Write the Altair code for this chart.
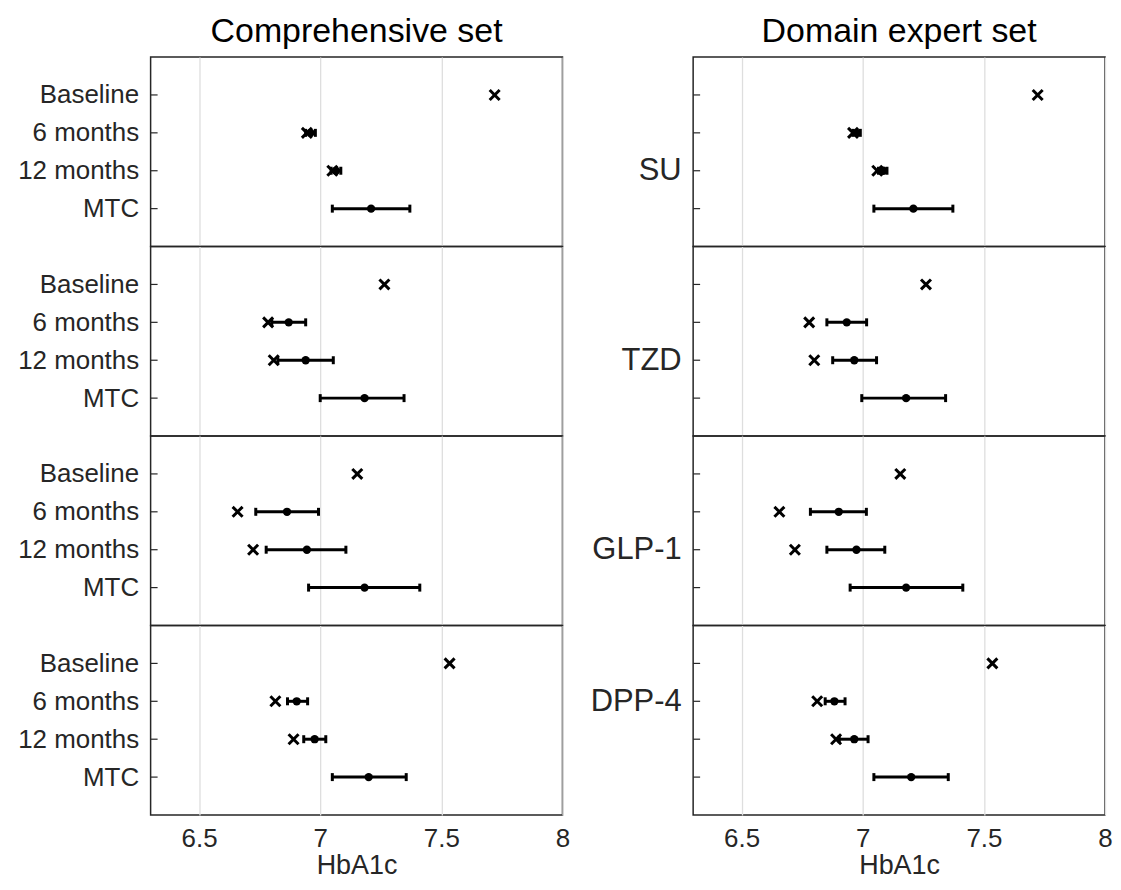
import json
import altair as alt
import pandas as pd

# ---------------- data ----------------
set_names = ["Comprehensive set", "Domain expert set"]
drugs = ["SU", "TZD", "GLP-1", "DPP-4"]
time_labels = ["Baseline", "6 months", "12 months", "MTC"]
drug_label_row = [3, 3, 3, 2]          # tick row where the drug name is shown (right column)

obs_rows = [1, 2, 3]                    # Baseline, 6 months, 12 months  (x markers)
pred_rows = [2, 3, 4]                   # 6 months, 12 months, MTC       (dot + CI)

# Comprehensive set
comp_obs = [[7.72, 6.945, 7.05],
            [7.265, 6.785, 6.808],
            [7.153, 6.659, 6.723],
            [7.534, 6.815, 6.89]]
comp_pred = [[6.96, 7.065, 7.21],
             [6.87, 6.94, 7.183],
             [6.863, 6.945, 7.183],
             [6.903, 6.977, 7.20]]
comp_lo = [[6.94, 7.045, 7.05],
           [6.80, 6.825, 7.0],
           [6.734, 6.777, 6.952],
           [6.865, 6.932, 7.05]]
comp_hi = [[6.98, 7.085, 7.37],
           [6.94, 7.054, 7.346],
           [6.993, 7.106, 7.411],
           [6.948, 7.023, 7.355]]

# Domain expert set
dom_obs = [[7.722, 6.96, 7.06],
           [7.261, 6.779, 6.80],
           [7.155, 6.656, 6.72],
           [7.535, 6.812, 6.89]]
dom_pred = [[6.975, 7.085, 7.209],
            [6.934, 6.965, 7.179],
            [6.901, 6.974, 7.179],
            [6.883, 6.965, 7.20]]
dom_lo = [[6.96, 7.065, 7.046],
          [6.852, 6.876, 6.996],
          [6.784, 6.852, 6.948],
          [6.845, 6.903, 7.046]]
dom_hi = [[6.99, 7.10, 7.372],
          [7.016, 7.057, 7.342],
          [7.015, 7.091, 7.413],
          [6.927, 7.022, 7.353]]

x_ticks = [6.5, 7, 7.5, 8]
x_domain = [6.3, 8]

OBS = [comp_obs, dom_obs]
PRED = [comp_pred, dom_pred]
LO = [comp_lo, dom_lo]
HI = [comp_hi, dom_hi]

# ---------------- style ----------------
FONT = "Liberation Sans"
TXT = "#262626"
PW, PH = 413, 190
CROSS = "M-1,-1L1,1M-1,1L1,-1"
CAP = "M0,-1L0,1"


def panel(si, di):
    obs_df = pd.DataFrame({"pos": obs_rows, "value": OBS[si][di]})
    pred_df = pd.DataFrame({"pos": pred_rows, "value": PRED[si][di],
                            "lo": LO[si][di], "hi": HI[si][di]})
    tick_df = pd.DataFrame({"pos": [1, 2, 3, 4]})

    bottom = di == len(drugs) - 1
    xscale = alt.Scale(domain=x_domain, nice=False, zero=False)
    yscale = alt.Scale(domain=[0, 5], reverse=True, nice=False, zero=False)

    xaxis_kw = dict(values=x_ticks, grid=True, gridColor="#dedede", gridWidth=1.3,
                    ticks=False, domain=False, labels=bottom, format="~g",
                    labelFontSize=26, labelColor=TXT, labelFont=FONT,
                    labelFlush=False)
    if bottom:
        xaxis_kw.update(title="HbA1c", titleFontSize=27, titleFontWeight="normal",
                        titleColor=TXT, titleFont=FONT, titlePadding=1, labelPadding=11)
    else:
        xaxis_kw.update(title=None, labelPadding=0, minExtent=0, maxExtent=0)
    xaxis = alt.Axis(**xaxis_kw)

    if si == 0:
        expr = json.dumps(time_labels) + "[datum.value - 1]"
        yaxis = alt.Axis(values=[1, 2, 3, 4], labelExpr=expr, ticks=False, domain=False,
                         grid=False, labelFontSize=26, labelColor=TXT, labelFont=FONT,
                         labelPadding=12, minExtent=142, maxExtent=142, title=None)
    else:
        expr = f"datum.value == {drug_label_row[di]} ? '{drugs[di]}' : ''"
        yaxis = alt.Axis(values=[1, 2, 3, 4], labelExpr=expr, ticks=False, domain=False,
                         grid=False, labelFontSize=31, labelColor=TXT, labelFont=FONT,
                         labelPadding=12, minExtent=122, maxExtent=122, title=None)

    X = lambda f: alt.X(f, scale=xscale, axis=xaxis)
    Y = alt.Y("pos:Q", scale=yscale, axis=yaxis)

    ticks = alt.Chart(tick_df).mark_rule(color=TXT, strokeWidth=1.2).encode(
        x=alt.value(0), x2=alt.value(7), y=Y)
    bars = alt.Chart(pred_df).mark_rule(color="black", strokeWidth=3).encode(
        x=X("lo:Q"), x2="hi:Q", y=Y)
    caps = alt.Chart(pred_df).transform_fold(["lo", "hi"], as_=["end", "xv"]).mark_point(
        shape=CAP, size=64, strokeWidth=3, filled=False, color="black", opacity=1).encode(
        x=X("xv:Q"), y=Y)
    dots = alt.Chart(pred_df).mark_point(
        shape="circle", size=70, filled=True, color="black", opacity=1).encode(
        x=X("value:Q"), y=Y)
    crosses = alt.Chart(obs_df).mark_point(
        shape=CROSS, size=100, strokeWidth=3, filled=False, color="black", opacity=1).encode(
        x=X("value:Q"), y=Y)

    layers = [ticks, bars, caps, dots, crosses]
    if di == 0:
        title_df = pd.DataFrame({"t": [set_names[si]]})
        layers.append(alt.Chart(title_df).mark_text(
            fontSize=34, font=FONT, color="black", align="center",
            baseline="alphabetic").encode(
            x=alt.value(PW / 2), y=alt.value(-15), text="t:N"))
    return alt.layer(*layers).properties(width=PW, height=PH)


cols = []
for si in range(2):
    cols.append(alt.vconcat(*[panel(si, di) for di in range(len(drugs))],
                            spacing=0, bounds="flush"))

chart = alt.hconcat(*cols, spacing=0).properties(
    padding={"left": 0, "top": 5, "right": 0, "bottom": 0}
).configure(font=FONT).configure_view(stroke="#262626", strokeWidth=1.5)

chart.save("out.html", embed_options={"renderer": "svg", "actions": False})
